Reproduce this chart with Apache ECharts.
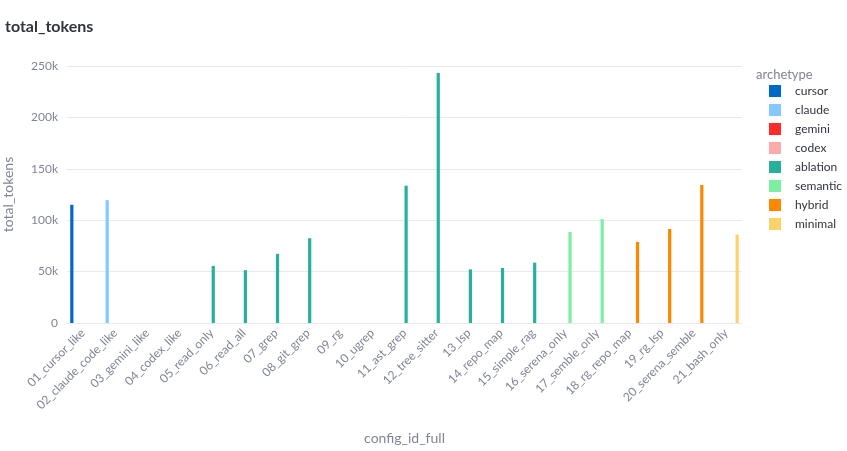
<!DOCTYPE html>
<html>
<head>
<meta charset="utf-8">
<script src="https://cdn.jsdelivr.net/npm/echarts@6/dist/echarts.min.js"></script>
<style>
  html, body { margin: 0; padding: 0; background: #fff; }
  #chart { width: 847px; height: 451px; }
</style>
</head>
<body>
<div id="chart"></div>
<script>
// 카테고리 (config_id_full)
const categories = [
  "01_cursor_like", "02_claude_code_like", "03_gemini_like", "04_codex_like",
  "05_read_only", "06_read_all", "07_grep", "08_git_grep", "09_rg", "10_ugrep",
  "11_ast_grep", "12_tree_sitter", "13_lsp", "14_repo_map", "15_simple_rag",
  "16_serena_only", "17_semble_only", "18_rg_repo_map", "19_rg_lsp",
  "20_serena_semble", "21_bash_only"
];
// 각 카테고리의 archetype
const categoryArchetype = [
  "cursor", "claude", "gemini", "codex",
  "ablation", "ablation", "ablation", "ablation", "ablation", "ablation",
  "ablation", "ablation", "ablation", "ablation", "ablation",
  "semantic", "semantic", "hybrid", "hybrid", "hybrid", "minimal"
];
// total_tokens 값 (null = 데이터 없음)
const totalTokens = [
  115000, 119500, null, null,
  55600, 51400, 67300, 82500, null, null,
  133600, 243300, 52200, 53500, 58700,
  88600, 101000, 78900, 91500, 134300, 86000
];
const archetypes = ["cursor", "claude", "gemini", "codex", "ablation", "semantic", "hybrid", "minimal"];
const archetypeColors = ["#0068C9", "#83C9FF", "#FF2B2B", "#FFABAB", "#29B09D", "#7DEFA1", "#FF8700", "#FFD16A"];
const yTicks = [0, 50000, 100000, 150000, 200000, 250000];

const FONT = "Lato, 'Noto Sans', sans-serif";
const GRAY = "#808495";

const chart = echarts.init(document.getElementById("chart"));

const series = archetypes.map((name, i) => ({
  name: name,
  type: "bar",
  barGap: "0%",
  barCategoryGap: "20%",
  itemStyle: { color: archetypeColors[i] },
  data: totalTokens.map((v, j) => (categoryArchetype[j] === name ? v : null)),
}));

const option = {
  animation: false,
  textStyle: { fontFamily: FONT },
  title: [
    {
      text: "total_tokens",
      left: 0,
      top: 14,
      textStyle: { fontSize: 16, fontWeight: "bold", color: "#31333F", fontFamily: FONT },
    },
    {
      text: "archetype",
      left: 751,
      top: 63,
      textStyle: { fontSize: 13, fontWeight: "normal", color: GRAY, fontFamily: FONT },
    },
  ],
  legend: {
    orient: "vertical",
    left: 764,
    top: 80,
    itemWidth: 12,
    itemHeight: 12,
    itemGap: 7,
    icon: "rect",
    data: archetypes,
    textStyle: { fontSize: 12, lineHeight: 12, color: "#31333F", fontFamily: FONT, padding: [0, 0, 0, 9] },
  },
  grid: { left: 67, right: 105, top: 66, bottom: 128, outerBoundsMode: "none" },
  xAxis: {
    type: "category",
    data: categories,
    name: "config_id_full",
    nameLocation: "middle",
    nameGap: 108,
    nameTextStyle: { fontSize: 14, color: GRAY, fontFamily: FONT },
    axisLine: { lineStyle: { color: "#E6E9EF" } },
    axisTick: { show: false },
    axisLabel: { rotate: 45, interval: 0, fontSize: 12, color: GRAY, margin: 8, fontFamily: FONT },
  },
  yAxis: {
    type: "value",
    min: yTicks[0],
    max: yTicks[yTicks.length - 1],
    interval: 50000,
    name: "total_tokens",
    nameLocation: "middle",
    nameGap: 52,
    nameTextStyle: { fontSize: 14, color: GRAY, fontFamily: FONT },
    axisLine: { show: false },
    axisTick: { show: false },
    splitLine: { lineStyle: { color: "#E6E9EF" } },
    axisLabel: {
      fontSize: 12,
      color: GRAY,
      margin: 9,
      fontFamily: FONT,
      formatter: (v) => (v === 0 ? "0" : v / 1000 + "k"),
    },
  },
  series: series,
};

chart.setOption(option);
</script>
</body>
</html>
